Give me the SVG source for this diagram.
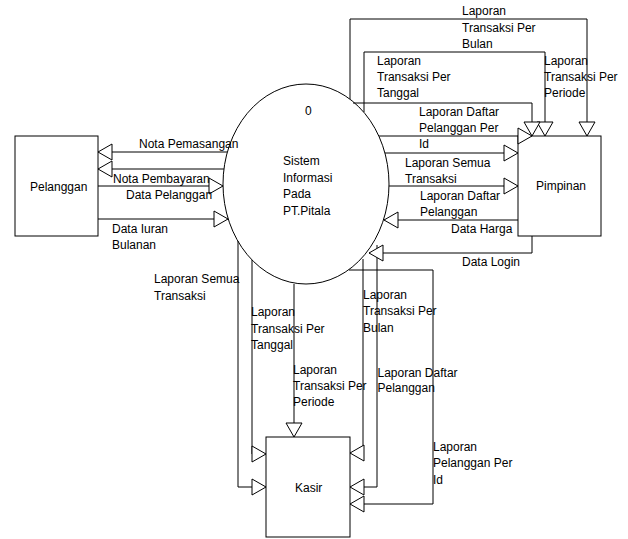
<svg xmlns="http://www.w3.org/2000/svg" width="628" height="539" viewBox="0 0 628 539">
<style>
text{font-family:"Liberation Sans",Arial,sans-serif;font-size:12px;fill:#000}
.n{fill:#fff;stroke:#000;stroke-width:1}
.c{fill:none;stroke:#000;stroke-width:1;marker-end:url(#a)}
</style>
<defs>
<marker id="a" viewBox="-1 -1 17 18" refX="14" refY="8" markerWidth="17" markerHeight="18" orient="auto" markerUnits="userSpaceOnUse">
<path d="M0,0 L14,8 L0,16 Z" fill="#fff" stroke="#000" stroke-width="1"/>
</marker>
</defs>
<rect width="628" height="539" fill="#fff"/>
<g id="sistem">
<ellipse class="n" cx="306" cy="184" rx="83" ry="100"/>
<text x="305" y="115">0</text>
<text x="283" y="165">Sistem<tspan x="283" dy="16.5">Informasi</tspan><tspan x="283" dy="16.5">Pada</tspan><tspan x="283" dy="16.5">PT.Pitala</tspan></text>
</g>
<g id="pelanggan">
<rect class="n" x="15" y="136" width="83" height="100"/>
<text x="30" y="190.5">Pelanggan</text>
</g>
<g id="pimpinan">
<rect class="n" x="518" y="136" width="83" height="100"/>
<text x="536" y="190">Pimpinan</text>
</g>
<g id="kasir">
<rect class="n" x="266" y="437" width="84" height="100"/>
<text x="295" y="491.5">Kasir</text>
</g>
<g id="connectors">
<path class="c" d="M350,99 V19 H587 V136"/>
<path class="c" d="M364,112 V52 H545 V136"/>
<path class="c" d="M353,103 H532 V136"/>
<path class="c" d="M379,136 H532"/>
<path class="c" d="M385,153 H518"/>
<path class="c" d="M389,186 H518"/>
<path class="c" d="M518,220 H384"/>
<path class="c" d="M227,152 H98"/>
<path class="c" d="M224,169 H98"/>
<path class="c" d="M98,186 H223"/>
<path class="c" d="M98,219 H228"/>
<path class="c" d="M238,241 V487 H266"/>
<path class="c" d="M252,260 V454 H266"/>
<path class="c" d="M294,284 V437"/>
<path class="c" d="M363,259 V453 H350"/>
<path class="c" d="M377,245 V487 H350"/>
<path class="c" d="M349,270 H433 V504 H350"/>
<path class="c" d="M532,236 V253 H369"/>
</g>
<g id="labels">
<text x="462" y="15">Laporan<tspan x="462" dy="16.5">Transaksi Per</tspan><tspan x="462" dy="16.5">Bulan</tspan></text>
<text x="377" y="65">Laporan<tspan x="377" dy="16">Transaksi Per</tspan><tspan x="377" dy="16">Tanggal</tspan></text>
<text x="544" y="65">Laporan<tspan x="544" dy="16">Transaksi Per</tspan><tspan x="544" dy="16">Periode</tspan></text>
<text x="419" y="116">Laporan Daftar<tspan x="419" dy="16">Pelanggan Per</tspan><tspan x="419" dy="16">Id</tspan></text>
<text x="405" y="166.5">Laporan Semua<tspan x="405" dy="16">Transaksi</tspan></text>
<text x="420" y="200">Laporan Daftar<tspan x="420" dy="15.5">Pelanggan</tspan></text>
<text x="451" y="232.5">Data Harga</text>
<text x="462" y="265.5">Data Login</text>
<text x="139" y="148">Nota Pemasangan</text>
<text x="113" y="182.5">Nota Pembayaran</text>
<text x="126" y="199">Data Pelanggan</text>
<text x="112" y="232.5">Data Iuran<tspan x="112" dy="16.5">Bulanan</tspan></text>
<text x="154" y="283">Laporan Semua<tspan x="154" dy="16.5">Transaksi</tspan></text>
<text x="251" y="316">Laporan<tspan x="251" dy="16.5">Transaksi Per</tspan><tspan x="251" dy="16">Tanggal</tspan></text>
<text x="293" y="373.5">Laporan<tspan x="293" dy="16.5">Transaksi Per</tspan><tspan x="293" dy="16">Periode</tspan></text>
<text x="363" y="298.5">Laporan<tspan x="363" dy="16.5">Transaksi Per</tspan><tspan x="363" dy="16.5">Bulan</tspan></text>
<text x="377.5" y="376.5">Laporan Daftar<tspan x="377.5" dy="15.5">Pelanggan</tspan></text>
<text x="433" y="450.5">Laporan<tspan x="433" dy="16.5">Pelanggan Per</tspan><tspan x="433" dy="16.5">Id</tspan></text>
</g>
</svg>
